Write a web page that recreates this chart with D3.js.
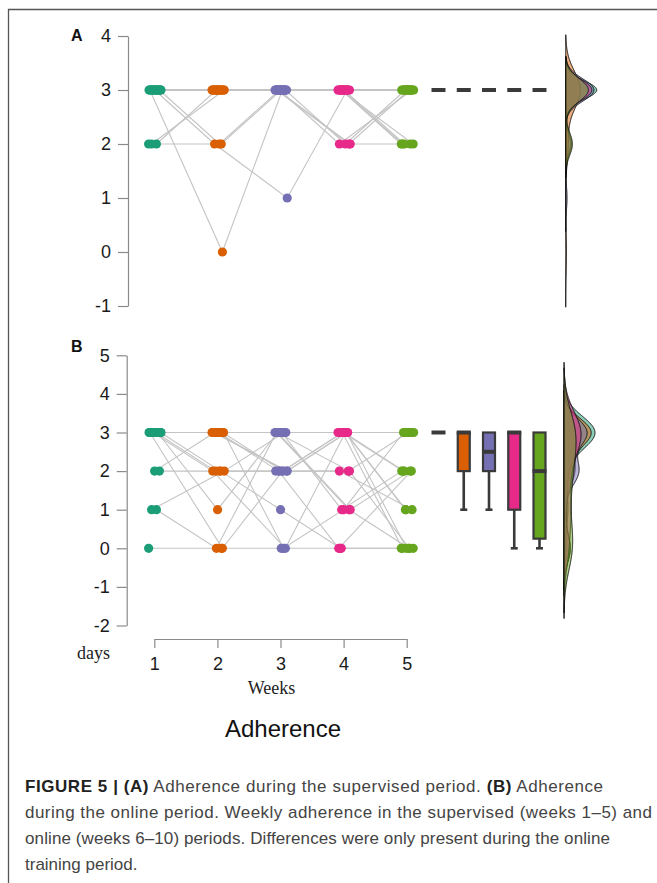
<!DOCTYPE html>
<html>
<head>
<meta charset="utf-8">
<script src="https://cdn.jsdelivr.net/npm/d3@7"></script>
<style>
  body { margin: 0; background: #fff; }
  svg { display: block; }
</style>
</head>
<body>
<svg id="vis" width="657" height="883"></svg>
<script>
const width = 657;
const height = 883;

const weeks = [1, 2, 3, 4, 5];
const weekColors = ['#1b9e77', '#d95f02', '#7570b3', '#e7298a', '#66a61e'];

// days trained per participant, weeks 1-5 (A: supervised period)
const supervised = [
  [2, 2, 3, 3, 2],
  [2, 3, 3, 2, 3],
  [2, 3, 3, 3, 2],
  [3, 2, 3, 2, 3],
  [3, 2, 1, 3, 3],
  [3, 0, 3, 3, 2],
  [3, 3, 3, 2, 2],
  [3, 3, 3, 2, 3],
  [3, 3, 3, 3, 2],
  [3, 3, 3, 3, 3],
  [3, 3, 3, 3, 3],
  [3, 3, 3, 3, 3],
  [3, 3, 3, 3, 3],
  [3, 3, 3, 3, 3],
  [3, 3, 3, 3, 3],
  [3, 3, 3, 3, 3],
  [3, 3, 3, 3, 3],
  [3, 3, 3, 3, 3],
  [3, 3, 3, 3, 3],
  [3, 3, 3, 3, 3],
  [3, 3, 3, 3, 3],
  [3, 3, 3, 3, 3]
];

// days trained per participant, weeks 1-5 (B: online period)
const online = [
  [0, 0, 0, 0, 0],
  [1, 0, 3, 1, 0],
  [1, 2, 3, 3, 2],
  [2, 2, 2, 2, 1],
  [2, 3, 2, 3, 3],
  [3, 0, 2, 3, 0],
  [3, 1, 3, 1, 2],
  [3, 2, 0, 3, 1],
  [3, 2, 1, 0, 0],
  [3, 2, 2, 2, 3],
  [3, 3, 0, 1, 3],
  [3, 3, 2, 0, 2],
  [3, 3, 2, 3, 0],
  [3, 3, 3, 1, 2],
  [3, 3, 3, 2, 0],
  [3, 3, 3, 3, 3],
  [3, 3, 3, 3, 3],
  [3, 3, 3, 3, 3],
  [3, 3, 2, 3, 2],
  [3, 3, 3, 3, 3],
  [3, 3, 3, 3, 1],
  [3, 3, 3, 3, 3]
];

const yTicksA = [-1, 0, 1, 2, 3, 4];
const yTicksB = [-2, -1, 0, 1, 2, 3, 4, 5];

const captionLines = [
  [['FIGURE 5 | (A)', true], [' Adherence during the supervised period. ', false], ['(B)', true], [' Adherence', false]],
  [['during the online period. Weekly adherence in the supervised (weeks 1–5) and', false]],
  [['online (weeks 6–10) periods. Differences were only present during the online', false]],
  [['training period.', false]]
];
const captionWidths = [578, 627, 585, null];

const svg = d3.select('#vis');
const sans = '"Liberation Sans", Arial, Helvetica, sans-serif';
const serif = '"Liberation Serif", "DejaVu Serif", serif';

// frame
svg.append('path')
  .attr('d', `M8.5,${height} V9.5 H${width}`)
  .attr('fill', 'none')
  .attr('stroke', '#555')
  .attr('stroke-width', 1.3);

const x = d3.scaleLinear().domain([1, 5]).range([154.3, 406.7]);
const boxX = d3.scaleLinear().domain([1, 5]).range([438.5, 539.5]);

// fixed horizontal offsets so the points of a week do not sit on one spot
function jitter(i, w) {
  const f = (i * 0.618034 + w * 0.7548777) % 1;
  return (f - 0.45) * 0.2;
}

function kde(values) {
  const n = values.length;
  const s = values.slice().sort(d3.ascending);
  const sd = d3.deviation(s);
  const iqr = d3.quantile(s, 0.75) - d3.quantile(s, 0.25);
  let lo = Math.min(sd, iqr / 1.34);
  if (!lo) lo = sd || Math.abs(s[0]) || 1;
  const bw = 0.9 * lo * Math.pow(n, -0.2);
  const from = s[0] - 3 * bw, to = s[n - 1] + 3 * bw;
  return d3.range(512).map(k => {
    const v = from + (to - from) * k / 511;
    const dens = d3.mean(s, xi => Math.exp(-0.5 * ((v - xi) / bw) ** 2)) / (bw * Math.sqrt(2 * Math.PI));
    return [v, dens];
  });
}

function boxStats(values) {
  const s = values.slice().sort(d3.ascending);
  const q1 = d3.quantile(s, 0.25), med = d3.quantile(s, 0.5), q3 = d3.quantile(s, 0.75);
  const iqr = q3 - q1;
  const lo = d3.min(s.filter(v => v >= q1 - 1.5 * iqr));
  const hi = d3.max(s.filter(v => v <= q3 + 1.5 * iqr));
  return {q1, med, q3, lo, hi};
}

function panel(data, yRange, yDomain, ticks, axisX, densBase, label, labelY) {
  const y = d3.scaleLinear().domain(yDomain).range(yRange);
  const g = svg.append('g');

  // y axis
  const ax = g.append('g')
    .attr('transform', `translate(${axisX},0)`)
    .call(d3.axisLeft(y).tickValues(ticks).tickSize(10).tickSizeOuter(0).tickPadding(7).tickFormat(d => String(d)));
  ax.select('.domain').attr('stroke', '#8a8a8a').attr('stroke-width', 1.2);
  ax.selectAll('.tick line').attr('stroke', '#8a8a8a').attr('stroke-width', 1.2);
  ax.selectAll('.tick text')
    .attr('fill', '#1a1a1a')
    .style('font-family', sans)
    .style('font-size', '18px');

  g.append('text')
    .attr('x', 71).attr('y', labelY)
    .text(label)
    .style('font-family', sans)
    .style('font-weight', 'bold')
    .style('font-size', '16px')
    .attr('fill', '#111');

  // connecting lines per participant
  const px = (i, w) => x(weeks[w] + jitter(i, w));
  const line = d3.line().x(d => d[0]).y(d => d[1]);
  g.append('g').selectAll('path')
    .data(data)
    .join('path')
    .attr('d', (row, i) => line(row.map((v, w) => [px(i, w), y(v)])))
    .attr('fill', 'none')
    .attr('stroke', '#c4c4c4')
    .attr('stroke-width', 1.1);

  // points
  weeks.forEach((wk, w) => {
    g.append('g').selectAll('circle')
      .data(data)
      .join('circle')
      .attr('cx', (row, i) => px(i, w))
      .attr('cy', row => y(row[w]))
      .attr('r', 4.6)
      .attr('fill', weekColors[w]);
  });

  // boxplots
  weeks.forEach((wk, w) => {
    const st = boxStats(data.map(r => r[w]));
    const cx = boxX(wk);
    const bg = g.append('g');
    if (st.lo < st.q1) {
      bg.append('line')
        .attr('x1', cx).attr('x2', cx)
        .attr('y1', y(st.q1)).attr('y2', y(st.lo))
        .attr('stroke', '#3a3a3a').attr('stroke-width', 2.6);
      bg.append('line')
        .attr('x1', cx - 3.5).attr('x2', cx + 3.5)
        .attr('y1', y(st.lo)).attr('y2', y(st.lo))
        .attr('stroke', '#3a3a3a').attr('stroke-width', 2.6);
    }
    if (st.hi > st.q3) {
      bg.append('line')
        .attr('x1', cx).attr('x2', cx)
        .attr('y1', y(st.q3)).attr('y2', y(st.hi))
        .attr('stroke', '#3a3a3a').attr('stroke-width', 2.6);
    }
    bg.append('rect')
      .attr('x', cx - 6).attr('width', 12)
      .attr('y', y(st.q3)).attr('height', y(st.q1) - y(st.q3))
      .attr('fill', weekColors[w])
      .attr('stroke', '#3a3a3a').attr('stroke-width', 2.2);
    bg.append('line')
      .attr('x1', cx - 7).attr('x2', cx + 7)
      .attr('y1', y(st.med)).attr('y2', y(st.med))
      .attr('stroke', '#3a3a3a').attr('stroke-width', 4);
  });

  // flat violins, one per week, drawn on top of each other
  const dens = weeks.map((wk, w) => kde(data.map(r => r[w])));
  const maxD = d3.max(dens, d => d3.max(d, p => p[1]));
  const dx = d3.scaleLinear().domain([0, maxD]).range([densBase, densBase + 31]);
  const area = d3.area().y(p => y(p[0])).x0(densBase).x1(p => dx(p[1]));
  g.append('g').selectAll('path')
    .data(dens)
    .join('path')
    .attr('d', area)
    .attr('fill', (d, w) => weekColors[w])
    .attr('fill-opacity', 0.5)
    .attr('stroke', '#111')
    .attr('stroke-width', 1);

  return y;
}

panel(supervised, [306, 36], [-1, 4], yTicksA, 128, 565.7, 'A', 41);
panel(online, [625.5, 355.3], [-2, 5], yTicksB, 126.7, 564, 'B', 352);

// weeks axis
const xa = svg.append('g')
  .attr('transform', 'translate(0,639)')
  .call(d3.axisBottom(x).tickValues(weeks).tickSize(9).tickSizeOuter(0).tickPadding(9).tickFormat(d => String(d)));
xa.select('.domain').attr('stroke', '#8a8a8a').attr('stroke-width', 1.2);
xa.selectAll('.tick line').attr('stroke', '#8a8a8a').attr('stroke-width', 1.2);
xa.selectAll('.tick text')
  .attr('fill', '#1a1a1a')
  .style('font-family', sans)
  .style('font-size', '18px');

svg.append('text')
  .attr('x', 77).attr('y', 659)
  .text('days')
  .style('font-family', serif)
  .style('font-size', '18px')
  .attr('fill', '#222');

svg.append('text')
  .attr('x', 271.5).attr('y', 694)
  .attr('text-anchor', 'middle')
  .text('Weeks')
  .style('font-family', serif)
  .style('font-size', '18px')
  .attr('fill', '#222');

svg.append('text')
  .attr('x', 283).attr('y', 737)
  .attr('text-anchor', 'middle')
  .text('Adherence')
  .style('font-family', sans)
  .style('font-size', '24px')
  .attr('fill', '#111');

// caption
const cap = svg.append('g')
  .style('font-family', sans)
  .style('font-size', '17px');
captionLines.forEach((parts, li) => {
  const t = cap.append('text')
    .attr('x', 25).attr('y', 792 + li * 26);
  if (captionWidths[li]) t.attr('textLength', captionWidths[li]).attr('lengthAdjust', 'spacing');
  parts.forEach(([str, bold]) => {
    t.append('tspan')
      .text(str)
      .style('font-weight', bold ? 'bold' : 'normal')
      .attr('fill', bold ? '#222' : '#444');
  });
});
</script>
</body>
</html>
